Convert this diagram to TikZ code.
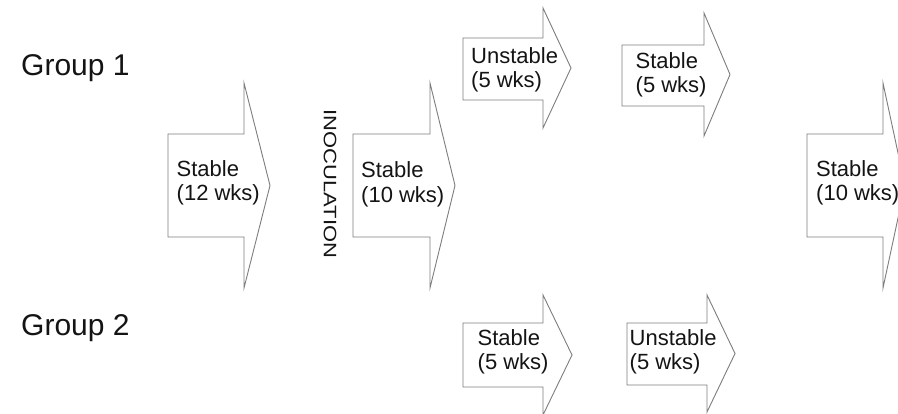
\documentclass[tikz,border=0pt]{standalone}
\usepackage{fontspec}
\setmainfont{Liberation Sans}
\definecolor{edgegray}{RGB}{125,125,125}
\definecolor{inkblack}{RGB}{20,20,20}
% block arrow: body left, body top, body bottom, head base, head top, head bottom, tip x
\newcommand\blockarrow[7]{%
  \draw[arrowline] (#1,#2) -- (#4,#2) -- (#4,#5) -- (#7,{(#5+#6)/2}) -- (#4,#6)
    -- (#4,#3) -- (#1,#3) -- cycle;}
\begin{document}
\begin{tikzpicture}[x=1pt,y=-1pt,
  arrowline/.style={draw=edgegray,fill=white,line width=0.9pt,line join=miter},
  % anchored on the baseline of the second line
  phase/.style={font=\fontsize{22}{24.5}\selectfont,text=inkblack,align=left,
    inner sep=0pt,anchor=base west},
  grouplbl/.style={font=\fontsize{30}{32}\selectfont,text=inkblack,
    inner sep=0pt,anchor=base west}]
\useasboundingbox (0,0) rectangle (898,414);
\fill[white] (0,0) rectangle (898,414);
\clip (0,0) rectangle (898,414);

% group labels
\node[grouplbl] (g1) at (21,76) {Group 1};
\node[grouplbl] (g2) at (21,336) {Group 2};

% arrows
\blockarrow{168}{134}{237}{244}{83}{288}{270}
\blockarrow{353}{134}{237}{430}{83}{288}{455}
\blockarrow{463}{38}{100}{543}{8}{128}{571}
\blockarrow{622}{45}{106}{704}{13}{136}{730}
\blockarrow{463}{323}{387}{543}{295}{415}{572}
\blockarrow{627}{323}{385}{707}{295}{412}{735}
\blockarrow{807}{134}{237}{883}{83}{288}{905}

% phase labels
\node[phase] (p1) at (176.5,201) {Stable\\(12 wks)};
\node[phase] (p2) at (361,202.5) {Stable\\(10 wks)};
\node[phase] (p3) at (471,88) {Unstable\\(5 wks)};
\node[phase] (p4) at (635.5,93) {Stable\\(5 wks)};
\node[phase] (p5) at (477.5,369.5) {Stable\\(5 wks)};
\node[phase] (p6) at (629.5,369.5) {Unstable\\(5 wks)};
\node[phase] (p7) at (816,201) {Stable\\(10 wks)};

% inoculation marker
\node[rotate=-90,inner sep=0pt,text=inkblack] (inoc) at (330,184)
  {\scalebox{1.22}[1]{\fontsize{18}{18}\selectfont INOCULATION}};
\end{tikzpicture}
\end{document}
